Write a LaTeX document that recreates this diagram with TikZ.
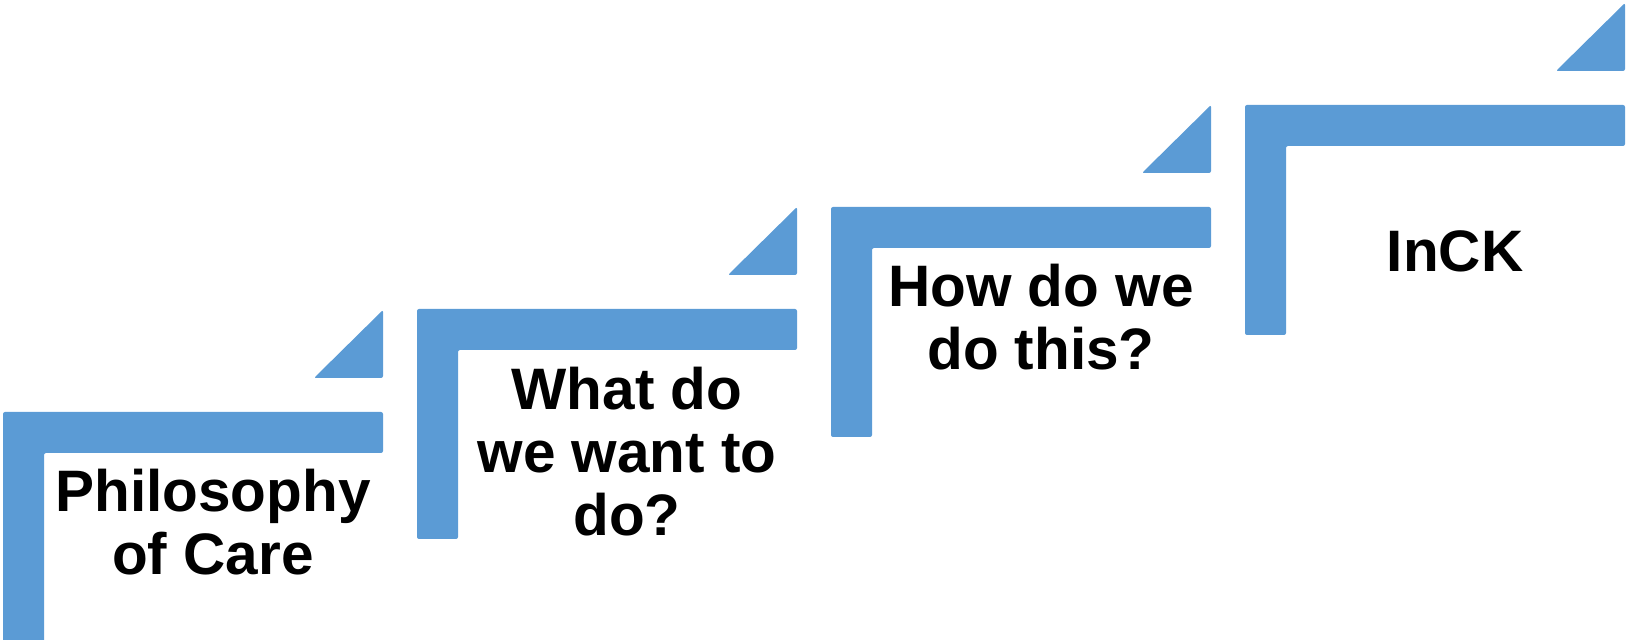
\documentclass[tikz,border=0pt]{standalone}
\usepackage{fontspec}
\setmainfont{Liberation Sans}
\usepackage{tikz}
\usetikzlibrary{positioning, calc}
\definecolor{stepblue}{RGB}{91,155,213}

\begin{document}
\begin{tikzpicture}[
  x=1pt, y=1pt,
  stair/.style={fill=stepblue, rounded corners=2pt},
  flag/.style={fill=stepblue, rounded corners=2pt},
  label/.style={font=\fontsize{58.5}{63}\selectfont\bfseries, align=center, anchor=base, inner sep=0pt}
  ]
  \useasboundingbox (0,0) rectangle (1626,640);

  % step one
  \begin{scope}[shift={(3,228)}]
  \fill[stair] (0,0) -- (380,0) -- (380,-41) -- (41,-41) -- (41,-230) -- (0,-230) -- cycle;
  \fill[flag] (311,34) -- (380,34) -- (380,102) -- cycle;
  \node[label] (philo) at (210,-163) {Philosophy\\of Care};
  \end{scope}

  % step two
  \begin{scope}[shift={(417,331)}]
  \fill[stair] (0,0) -- (380,0) -- (380,-41) -- (41,-41) -- (41,-230) -- (0,-230) -- cycle;
  \fill[flag] (311,34) -- (380,34) -- (380,102) -- cycle;
  \node[label] (what) at (210,-227) {What do\\we want to\\do?};
  \end{scope}

  % step three
  \begin{scope}[shift={(831,433)}]
  \fill[stair] (0,0) -- (380,0) -- (380,-41) -- (41,-41) -- (41,-230) -- (0,-230) -- cycle;
  \fill[flag] (311,34) -- (380,34) -- (380,102) -- cycle;
  \node[label] (how) at (210,-163) {How do we\\do this?};
  \end{scope}

  % step four
  \begin{scope}[shift={(1245,535)}]
  \fill[stair] (0,0) -- (380,0) -- (380,-41) -- (41,-41) -- (41,-230) -- (0,-230) -- cycle;
  \fill[flag] (311,34) -- (380,34) -- (380,102) -- cycle;
  \node[label] (inck) at (210,-167) {InCK};
  \end{scope}
\end{tikzpicture}
\end{document}
